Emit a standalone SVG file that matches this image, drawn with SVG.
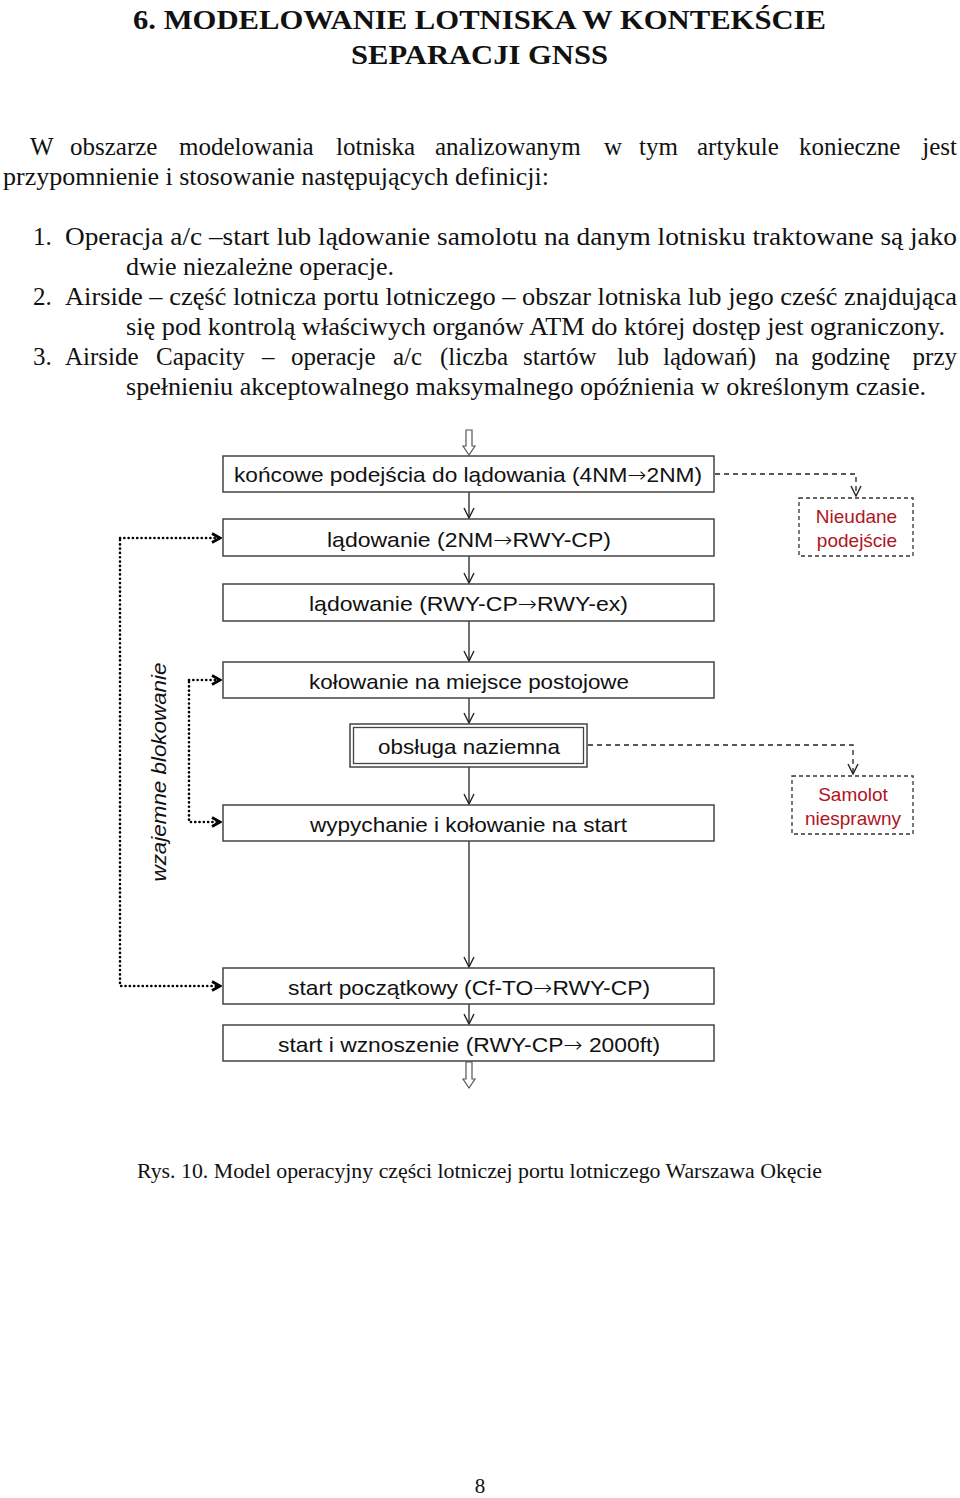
<svg xmlns="http://www.w3.org/2000/svg" width="960" height="1498" viewBox="0 0 960 1498">
<defs>
<style>
.ser{font-family:"Liberation Serif","Times New Roman",serif;fill:#111}
.body{font-size:25px}
.ttl{font-size:28px;font-weight:bold}
.box{fill:#fff;stroke:#444;stroke-width:1.5}
.bt{font-family:"Liberation Sans",Arial,sans-serif;font-size:21px;fill:#111;text-anchor:middle}
.ar{font-family:"Noto Sans","DejaVu Sans",sans-serif;font-weight:300}
.rt{font-family:"Liberation Sans",Arial,sans-serif;font-size:19px;fill:#b0141e;text-anchor:middle}
.dbox{fill:#fff;stroke:#333;stroke-width:1.3;stroke-dasharray:4 3}
.flow{stroke:#222;stroke-width:1.3;fill:none}
.dash{stroke:#222;stroke-width:1.3;fill:none;stroke-dasharray:5 4}
.dot{stroke:#000;stroke-width:2.6;fill:none;stroke-dasharray:0.1 4.2;stroke-linecap:round}
.hol{fill:#fff;stroke:#555;stroke-width:1.2}
</style>
<marker id="v" viewBox="0 0 12 12" refX="11" refY="6" markerWidth="12" markerHeight="12" markerUnits="userSpaceOnUse" orient="auto">
<path d="M1,1 L11,6 L1,11" fill="none" stroke="#222" stroke-width="1.4"/>
</marker>
<marker id="c" viewBox="0 0 12 12" refX="10" refY="6" markerWidth="12" markerHeight="12" markerUnits="userSpaceOnUse" orient="auto">
<path d="M2,1.5 L10,6 L2,10.5" fill="none" stroke="#000" stroke-width="2.8"/>
</marker>
</defs>
<rect width="960" height="1498" fill="#fff"/>

<g id="title" class="ser ttl">
<text x="133" y="29" textLength="693" lengthAdjust="spacingAndGlyphs">6. MODELOWANIE LOTNISKA W KONTEKŚCIE</text>
<text x="351" y="64" textLength="257" lengthAdjust="spacingAndGlyphs">SEPARACJI GNSS</text>
</g>

<g id="bodytext" class="ser body">
<text y="155"><tspan x="30">W</tspan><tspan x="70">obszarze</tspan><tspan x="179">modelowania</tspan><tspan x="336">lotniska</tspan><tspan x="435">analizowanym</tspan><tspan x="604">w</tspan><tspan x="639">tym</tspan><tspan x="697">artykule</tspan><tspan x="799">konieczne</tspan></text>
<text x="957" y="155" text-anchor="end">jest</text>
<text x="3" y="185" textLength="546" lengthAdjust="spacingAndGlyphs">przypomnienie i stosowanie następujących definicji:</text>
<text x="33" y="245">1.</text>
<text x="65" y="245" textLength="892" lengthAdjust="spacingAndGlyphs">Operacja a/c –start lub lądowanie samolotu na danym lotnisku traktowane są jako</text>
<text x="126" y="275" textLength="268" lengthAdjust="spacingAndGlyphs">dwie niezależne operacje.</text>
<text x="33" y="305">2.</text>
<text x="65" y="305" textLength="892" lengthAdjust="spacingAndGlyphs">Airside – część lotnicza portu lotniczego – obszar lotniska lub jego cześć znajdująca</text>
<text x="126" y="335" textLength="819" lengthAdjust="spacingAndGlyphs">się pod kontrolą właściwych organów ATM do której dostęp jest ograniczony.</text>
<text y="365"><tspan x="33">3.</tspan><tspan x="65">Airside</tspan><tspan x="156">Capacity</tspan><tspan x="262">–</tspan><tspan x="291">operacje</tspan><tspan x="393">a/c</tspan><tspan x="440">(liczba</tspan><tspan x="523">startów</tspan><tspan x="617">lub</tspan><tspan x="663">lądowań)</tspan><tspan x="775">na</tspan><tspan x="811">godzinę</tspan></text>
<text x="957" y="365" text-anchor="end">przy</text>
<text x="126" y="395" textLength="800" lengthAdjust="spacingAndGlyphs">spełnieniu akceptowalnego maksymalnego opóźnienia w określonym czasie.</text>
</g>

<g id="connectors">
<polygon class="hol" points="466,430 472,430 472,446 475,446 469,455 463,446 466,446"/>
<polygon class="hol" points="466,1062 472,1062 472,1079 475,1079 469,1088 463,1079 466,1079"/>
<line class="flow" x1="469" y1="492" x2="469" y2="518" marker-end="url(#v)"/>
<line class="flow" x1="469" y1="556" x2="469" y2="583" marker-end="url(#v)"/>
<line class="flow" x1="469" y1="621" x2="469" y2="661" marker-end="url(#v)"/>
<line class="flow" x1="469" y1="698" x2="469" y2="723" marker-end="url(#v)"/>
<line class="flow" x1="469" y1="767" x2="469" y2="804" marker-end="url(#v)"/>
<line class="flow" x1="469" y1="841" x2="469" y2="967" marker-end="url(#v)"/>
<line class="flow" x1="469" y1="1004" x2="469" y2="1024" marker-end="url(#v)"/>
<path class="dash" d="M715,474 H856 V496" marker-end="url(#v)"/>
<path class="dash" d="M588,745 H853 V774" marker-end="url(#v)"/>
<path class="dot" d="M120,540 V986 H220" marker-end="url(#c)"/>
<path class="dot" d="M120,538 H220" marker-end="url(#c)"/>
<path class="dot" d="M189,682 V822 H220" marker-end="url(#c)"/>
<path class="dot" d="M189,680 H220" marker-end="url(#c)"/>
</g>

<g id="n1"><rect class="box" x="223" y="456" width="491" height="36"/><text class="bt" x="468" y="482" textLength="468" lengthAdjust="spacingAndGlyphs">końcowe podejścia do lądowania (4NM<tspan class="ar">→</tspan>2NM)</text></g>
<g id="n2"><rect class="box" x="223" y="519" width="491" height="37"/><text class="bt" x="469" y="547" textLength="284" lengthAdjust="spacingAndGlyphs">lądowanie (2NM<tspan class="ar">→</tspan>RWY-CP)</text></g>
<g id="n3"><rect class="box" x="223" y="584" width="491" height="37"/><text class="bt" x="468.5" y="611" textLength="319" lengthAdjust="spacingAndGlyphs">lądowanie (RWY-CP<tspan class="ar">→</tspan>RWY-ex)</text></g>
<g id="n4"><rect class="box" x="223" y="662" width="491" height="36"/><text class="bt" x="469" y="689" textLength="320" lengthAdjust="spacingAndGlyphs">kołowanie na miejsce postojowe</text></g>
<g id="n5"><rect class="box" x="350" y="724" width="237" height="43"/><rect x="353.5" y="727.5" width="230" height="36" fill="none" stroke="#444" stroke-width="1.3"/><text class="bt" x="469" y="754" textLength="182" lengthAdjust="spacingAndGlyphs">obsługa naziemna</text></g>
<g id="n6"><rect class="box" x="223" y="805" width="491" height="36"/><text class="bt" x="468.5" y="832" textLength="317" lengthAdjust="spacingAndGlyphs">wypychanie i kołowanie na start</text></g>
<g id="n7"><rect class="box" x="223" y="968" width="491" height="36"/><text class="bt" x="469" y="995" textLength="362" lengthAdjust="spacingAndGlyphs">start początkowy (Cf-TO<tspan class="ar">→</tspan>RWY-CP)</text></g>
<g id="n8"><rect class="box" x="223" y="1025" width="491" height="36"/><text class="bt" x="469" y="1052" textLength="382" lengthAdjust="spacingAndGlyphs">start i wznoszenie (RWY-CP<tspan class="ar">→</tspan> 2000ft)</text></g>

<g id="nieudane"><rect class="dbox" x="799" y="498" width="114" height="58"/><text class="rt" x="856.5" y="523">Nieudane</text><text class="rt" x="857" y="547">podejście</text></g>
<g id="samolot"><rect class="dbox" x="792" y="776" width="121" height="58"/><text class="rt" x="853" y="801">Samolot</text><text class="rt" x="853" y="825">niesprawny</text></g>

<g id="blokowanie"><text transform="translate(166,772) rotate(-90)" font-family="'Liberation Sans',Arial,sans-serif" font-size="21" font-style="italic" fill="#111" text-anchor="middle" textLength="219" lengthAdjust="spacingAndGlyphs">wzajemne blokowanie</text></g>

<g id="caption" class="ser">
<text x="137" y="1178" font-size="21" textLength="685" lengthAdjust="spacingAndGlyphs">Rys. 10. Model operacyjny części lotniczej portu lotniczego Warszawa Okęcie</text>
<text x="480" y="1493" font-size="21" text-anchor="middle">8</text>
</g>
</svg>
